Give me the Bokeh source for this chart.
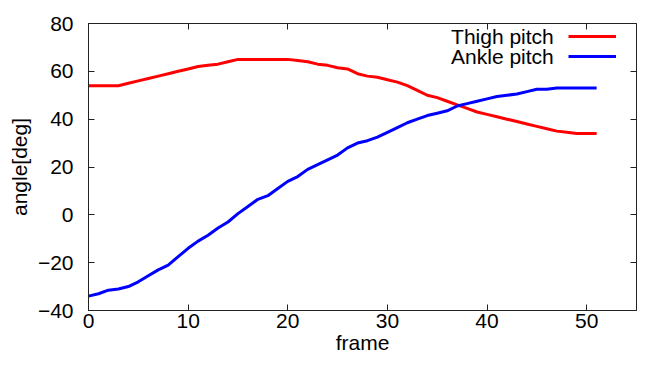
from bokeh.plotting import figure
from bokeh.models import Range1d, LinearAxis, Legend, LegendItem, FixedTicker, Label
from bokeh.embed import file_html
from bokeh.resources import INLINE

frames = list(range(52))
thigh = [54, 54, 54, 54, 55, 56, 57, 58, 59, 60, 61, 62, 62.5, 63, 64, 65,
         65, 65, 65, 65, 65,
         64.5, 64, 63, 62.5, 61.5, 61, 59, 58, 57.5, 56.5,
         55.5, 54, 52, 50, 49, 47.5, 46, 44.5, 43, 42,
         41, 40, 39, 38, 37, 36, 35, 34.5, 34, 34, 34]
ankle = [-34, -33, -31.5, -31, -30, -28, -25.5, -23, -21, -17.5, -14,
         -11, -8.5, -5.5, -3, 0.5, 3.5, 6.5, 8, 11, 14,
         16, 19, 21, 23, 25, 28, 30, 31, 32.5, 34.5,
         36.5, 38.5, 40, 41.5, 42.5, 43.5, 45.5, 46.5, 47.5, 48.5,
         49.5, 50, 50.5, 51.5, 52.5, 52.5, 53, 53, 53, 53, 53]
series_names = ["Thigh pitch", "Ankle pitch"]
x_ticks = [0, 10, 20, 30, 40, 50]
y_ticks = [-40, -20, 0, 20, 40, 60, 80]

FONT = "Liberation Sans"
FS = "21px"
AXC = "#222222"

p = figure(width=638, height=356, output_backend="svg", toolbar_location=None,
           x_range=Range1d(0, 55), y_range=Range1d(-40, 80),
           min_border_left=88, min_border_right=2, min_border_top=23,
           min_border_bottom=0, background_fill_color="white",
           border_fill_color="white")
p.grid.visible = False
p.outline_line_color = AXC
p.outline_line_width = 1


def style(ax, ticks, labels=True):
    ax.ticker = FixedTicker(ticks=ticks)
    ax.axis_line_color = AXC
    ax.major_tick_line_color = AXC
    ax.major_tick_in = 6
    ax.major_tick_out = 0
    ax.minor_tick_in = 0
    ax.minor_tick_out = 0
    ax.minor_tick_line_color = None
    ax.major_label_text_font = FONT
    ax.major_label_text_color = "black"
    ax.axis_label_text_font = FONT
    ax.axis_label_text_font_style = "normal"
    ax.axis_label_text_color = "black"
    ax.axis_label_text_font_size = FS
    if labels:
        ax.major_label_text_font_size = FS
    else:
        ax.major_label_text_font_size = "1px"
        ax.major_label_text_color = None
        ax.major_label_standoff = 0
        ax.axis_line_color = None


xa = p.xaxis[0]
ya = p.yaxis[0]
style(xa, x_ticks)
style(ya, y_ticks)
xa.axis_label = "frame"
ya.axis_label = "angle[deg]"
xa.major_label_standoff = 3
xa.axis_label_standoff = 0
ya.major_label_standoff = 15
ya.axis_label_standoff = 4

xt = LinearAxis()
style(xt, x_ticks, labels=False)
p.add_layout(xt, "above")
yr = LinearAxis()
style(yr, y_ticks, labels=False)
p.add_layout(yr, "right")

r1 = p.line(frames, thigh, line_color="#ff0000", line_width=3)
r2 = p.line(frames, ankle, line_color="#0000ff", line_width=3)

# legend: line samples on the right, names to their left (gnuplot style)
legend = Legend(items=[LegendItem(label="", renderers=[r1]),
                       LegendItem(label="", renderers=[r2])],
                location=(480, 244), glyph_width=48, glyph_height=20,
                label_height=20, label_standoff=0,
                label_text_font=FONT, label_text_font_size="10px",
                padding=0, spacing=0, margin=0,
                background_fill_alpha=0, border_line_color=None)
p.add_layout(legend)

for name, yy in zip(series_names, [74.6, 66.2]):
    p.add_layout(Label(x=46.7, y=yy, text=name, text_align="right",
                       text_baseline="middle", text_font=FONT,
                       text_font_size=FS, text_color="black"))

open("out.html", "w").write(file_html(p, INLINE))
